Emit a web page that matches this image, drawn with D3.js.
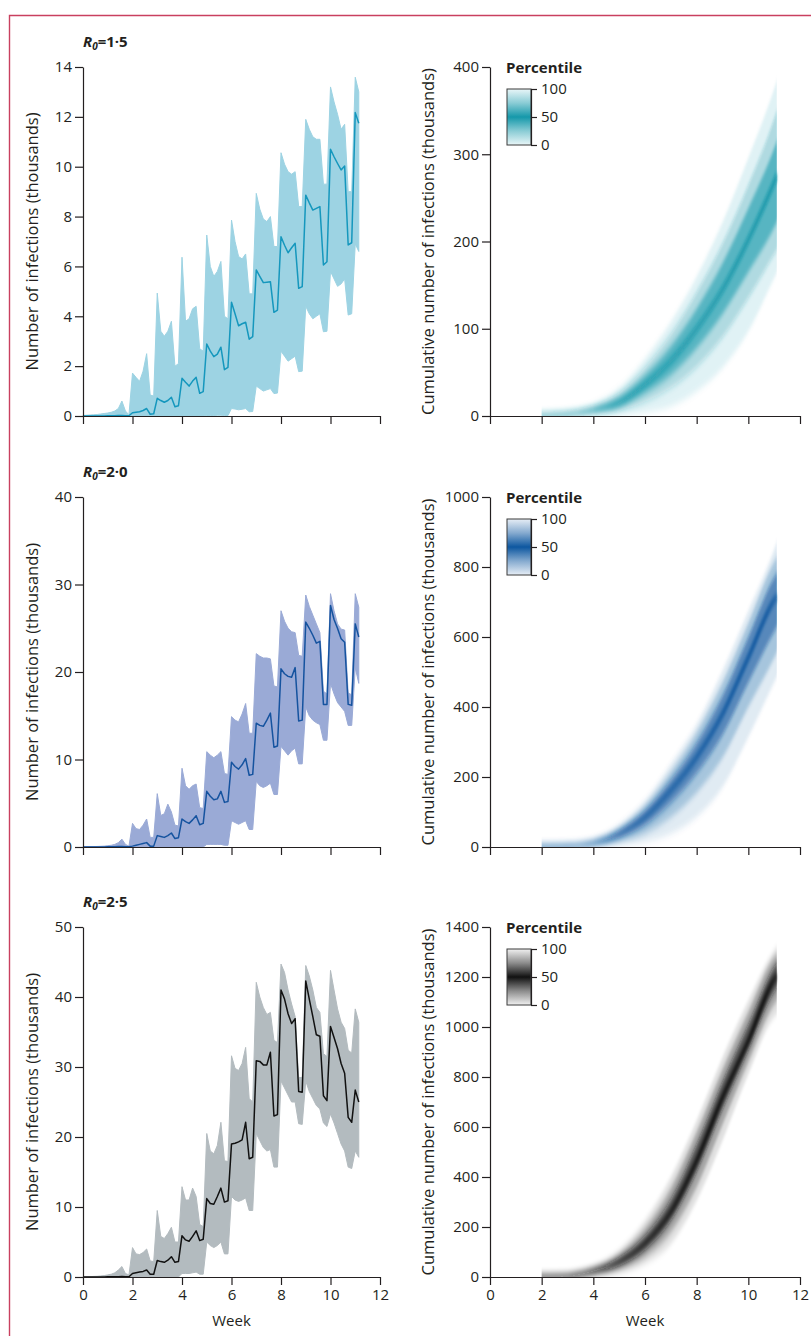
<!DOCTYPE html>
<html>
<head>
<meta charset="utf-8">
<script src="https://cdn.jsdelivr.net/npm/d3@7"></script>
<style>
  body { margin: 0; background: #fff; }
  svg text { font-family: "Open Sans", sans-serif; fill: #231f20; }
  .axis path, .axis line { stroke: #231f20; stroke-width: 1.2; }
</style>
</head>
<body>
<svg width="811" height="1336"></svg>
<script>
// --- daily new infections (thousands), one value per day, day 0 .. day 78 ---
const medA = [0,0,0,0,0,0,0, 0.01,0.01,0.01,0.02,0.02,0.01,0.01, 0.13,0.15,0.17,0.22,0.3,0.07,0.09,
  0.71,0.62,0.55,0.62,0.75,0.37,0.41, 1.51,1.35,1.2,1.4,1.55,0.91,0.98, 2.89,2.6,2.38,2.48,2.76,1.86,1.95,
  4.56,4.1,3.62,3.7,3.76,3.08,3.18, 5.86,5.6,5.35,5.37,5.39,4.16,4.25, 7.19,6.85,6.55,6.75,6.93,5.12,5.19,
  8.86,8.55,8.26,8.33,8.4,6.06,6.19, 10.7,10.4,10.13,9.87,10.03,6.86,6.95, 12.17,11.74];
const upA = [0.02,0.03,0.04,0.05,0.06,0.08,0.1, 0.12,0.15,0.2,0.3,0.6,0.2,0.05, 1.72,1.55,1.39,1.8,2.5,0.84,0.8,
  4.93,3.4,3.2,3.4,3.8,2.0,2.1, 6.37,3.8,3.9,4.3,4.4,2.7,2.6, 7.26,6.0,5.6,5.8,6.2,4.0,3.9,
  7.86,7.0,6.4,6.3,6.5,4.9,4.9, 8.93,8.3,7.9,7.8,8.0,6.8,6.8, 10.56,10.1,9.8,9.7,9.8,8.4,8.4,
  11.9,11.5,11.2,11.1,11.1,9.3,9.3, 13.2,12.6,12.1,11.5,11.7,9.0,9.0, 13.59,13.0];
const loA = [0,0,0,0,0,0,0, 0,0,0,0,0,0,0, 0,0,0,0,0,0,0, 0,0,0,0,0,0,0, 0,0,0,0,0,0,0,
  0.02,0.02,0.02,0.03,0.03,0.02,0.02, 0.3,0.28,0.25,0.27,0.3,0.17,0.18, 1.2,1.1,1.0,1.05,1.1,0.9,0.92,
  2.6,2.4,2.2,2.3,2.4,1.78,1.8, 4.4,4.1,3.9,4.0,4.1,3.38,3.4, 5.8,5.5,5.2,5.3,5.5,4.05,4.1, 6.9,6.6];

const medB = [0,0,0,0,0,0,0, 0.02,0.03,0.04,0.05,0.06,0.03,0.03, 0.1,0.2,0.3,0.4,0.5,0.1,0.1,
  1.3,1.2,1.1,1.3,1.6,0.96,1.06, 3.2,2.9,2.7,3.1,3.58,2.55,2.7, 6.36,5.8,5.4,5.5,6.36,5.1,5.2,
  9.68,9.2,8.9,9.4,10.1,8.2,8.3, 14.15,13.9,13.8,14.5,15.3,11.4,11.55, 20.36,19.8,19.5,19.4,20.5,14.4,14.5,
  25.7,25.0,24.2,23.3,23.5,16.3,16.3, 27.6,26.0,24.96,23.8,23.4,16.3,16.2, 25.5,24.0];
const upB = [0.02,0.03,0.04,0.05,0.06,0.08,0.1, 0.15,0.2,0.3,0.5,0.9,0.3,0.1, 2.7,2.1,2.0,2.5,3.2,1.1,1.1,
  6.1,3.6,3.8,4.9,4.0,2.5,2.4, 9.0,7.0,6.6,7.0,7.2,4.5,4.4, 10.9,10.5,10.2,10.5,10.9,8.4,8.3,
  14.9,14.5,14.3,15.2,16.4,13.0,13.0, 22.1,21.8,21.6,21.6,21.5,18.4,18.3, 27.0,25.8,25.0,24.6,24.5,21.9,21.8,
  28.8,27.5,26.5,25.5,24.5,17.8,17.5, 28.95,27.0,25.5,24.9,24.8,17.6,17.4, 28.95,27.4];
const loB = [0,0,0,0,0,0,0, 0,0,0,0,0,0,0, 0,0,0,0,0,0,0, 0,0,0,0,0,0,0, 0,0,0,0,0,0,0,
  0.3,0.3,0.3,0.3,0.3,0.2,0.2, 3.0,2.8,2.6,2.8,3.0,2.0,2.0, 7.5,7.0,6.8,7.0,7.3,6.0,6.0,
  11.5,11.0,10.5,11.0,11.3,9.5,9.5, 16.0,15.0,14.5,14.2,14.0,12.2,12.2, 18.7,17.5,16.5,16.0,15.5,13.9,13.9, 20.5,18.7];

const medC = [0,0,0,0,0,0,0, 0.02,0.03,0.04,0.05,0.06,0.03,0.03, 0.5,0.6,0.7,0.8,1.0,0.4,0.4,
  2.36,2.2,2.1,2.4,2.9,2.1,2.2, 5.9,5.3,5.1,5.8,6.6,5.2,5.4, 11.2,10.5,10.4,11.5,12.7,10.7,10.9,
  19.0,19.1,19.3,19.6,22.1,16.9,17.1, 30.9,30.8,30.3,30.3,32.1,23.0,23.2, 41.0,39.7,37.6,36.2,36.9,26.5,26.4,
  42.3,39.7,37.2,34.6,34.4,25.9,25.2, 35.8,34.2,32.6,30.5,29.1,22.8,22.1, 26.7,25.0];
const upC = [0.02,0.03,0.05,0.08,0.1,0.15,0.2, 0.3,0.4,0.6,1.0,1.5,0.5,0.3, 4.2,3.3,3.2,3.5,4.0,2.3,2.2,
  9.5,5.8,5.5,6.2,7.1,5.0,5.0, 12.9,11.0,11.0,12.7,11.5,7.5,7.2, 20.5,18.0,17.6,18.8,22.1,16.6,16.5,
  31.6,29.8,29.5,30.5,32.8,25.5,25.0, 42.1,40.0,38.5,37.5,37.8,33.8,33.5, 44.7,43.5,41.0,39.0,37.2,28.5,28.5,
  44.5,43.0,41.0,38.5,37.8,31.9,31.5, 43.8,41.0,38.3,36.4,35.5,32.4,32.0, 38.3,36.4];
const loC = [0,0,0,0,0,0,0, 0,0,0,0,0,0,0, 0,0,0,0,0,0,0, 0,0,0,0,0,0,0, 0.5,0.5,0.5,0.6,0.7,0.4,0.4,
  5.0,4.5,4.2,4.5,5.0,3.3,3.3, 11.5,11.0,10.8,11.0,11.3,9.5,9.5, 20.5,19.5,18.5,18.0,18.2,15.7,15.7,
  28.0,27.0,26.0,25.0,25.0,21.9,21.8, 28.0,26.5,25.5,24.5,24.0,22.0,21.5, 23.3,22.0,20.5,19.0,18.0,15.7,15.5, 18.0,17.1];

// --- cumulative infections (thousands), percentiles at these weeks ---
const cumWeeks = [2,3,4,5,6,7,8,9,10,11,11.1];
const cumA0   = [0,0,0.5,1,4,11,28,55,97,158,164];
const cumA10  = [0,0.5,2.5,6,16,32,56,90,135,185,190];
const cumA25  = [0.1,1.2,4.5,10,26,47,78,117,165,216,222];
const cumA50  = [0.3,2,7,15,36,63,100,145,202,268,275];
const cumA75  = [0.5,2.8,9.5,22,47,80,123,175,238,307,315];
const cumA90  = [0.7,3.3,11,27,56,94,142,198,265,341,350];
const cumA100 = [0.9,4,13,32,66,108,160,222,296,375,384];

const cumB0   = [0,0,1,5,14,38,86,171,314,470,485];
const cumB10  = [0,0.5,4,14,38,85,155,255,400,540,555];
const cumB25  = [0.2,1.2,7,26,62,125,210,320,470,615,628];
const cumB50  = [0.4,2,11,38,86,162,257,380,542,705,715];
const cumB75  = [0.6,2.5,14,48,105,192,298,432,600,770,782];
const cumB90  = [0.8,2.8,16,55,120,215,328,470,640,815,828];
const cumB100 = [1,3,19,62,133,238,352,504,675,850,870];

const cumC0   = [0,0,4,16,53,133,306,546,812,1040,1051];
const cumC10  = [0,1,10,30,80,180,360,610,860,1090,1105];
const cumC25  = [0.5,2,17,45,108,225,420,670,905,1140,1155];
const cumC50  = [1,3,24,60,133,260,466,719,945,1190,1204];
const cumC75  = [1.5,5,30,78,165,310,530,780,1010,1240,1255];
const cumC90  = [2,8,35,92,195,355,580,830,1060,1278,1290];
const cumC100 = [3,11,40,106,226,399,626,878,1105,1305,1318];

// --- labels and axis ranges ---
const r0Labels = ["1·5", "2·0", "2·5"];
const leftMax = [14, 40, 50];
const leftStep = [2, 10, 10];
const rightMax = [400, 1000, 1400];
const rightStep = [100, 200, 200];
const weekTicks = [0, 2, 4, 6, 8, 10, 12];
const legendTicks = [0, 50, 100];

// colours per row
const spreadColor = ["#9dd3e3", "#9aaad6", "#b3bbbf"];
const medianColor = ["#1597bd", "#15539f", "#111111"];
const fanColor = ["#1598aa", "#0d57a0", "#111111"];
const fanLight = ["#e9f6f8", "#e7eef6", "#f1f1f1"];

const rows = [
  { med: medA, up: upA, lo: loA, cum: [cumA0, cumA10, cumA25, cumA50, cumA75, cumA90, cumA100] },
  { med: medB, up: upB, lo: loB, cum: [cumB0, cumB10, cumB25, cumB50, cumB75, cumB90, cumB100] },
  { med: medC, up: upC, lo: loC, cum: [cumC0, cumC10, cumC25, cumC50, cumC75, cumC90, cumC100] }
];

const tickFont = "15px";
const titleFont = "16.5px";

const svg = d3.select("svg");
const defs = svg.append("defs");

// vertical-only blur for the percentile fan
defs.append("filter").attr("id", "vblur")
  .attr("x", "-5%").attr("y", "-10%").attr("width", "110%").attr("height", "120%")
  .append("feGaussianBlur").attr("stdDeviation", "0 3.5");

// page frame
svg.append("path")
  .attr("d", "M9.5,1336V15.5H811")
  .attr("fill", "none").attr("stroke", "#c9405f").attr("stroke-width", 1.4);

const xL = d3.scaleLinear().domain([0, 12]).range([83, 380]);
const xR = d3.scaleLinear().domain([0, 12]).range([490, 800]);
const rowTop = [67, 497, 927];
const rowBottom = [416, 847, 1277];

rows.forEach((r, i) => {
  const yL = d3.scaleLinear().domain([0, leftMax[i]]).range([rowBottom[i], rowTop[i]]);
  const yR = d3.scaleLinear().domain([0, rightMax[i]]).range([rowBottom[i], rowTop[i]]);
  const isLast = i === rows.length - 1;

  // ---------- left: daily infections ----------
  const gL = svg.append("g");
  const spread = d3.area()
    .x((d, j) => xL(j / 7))
    .y0((d, j) => yL(r.lo[j]))
    .y1(d => yL(d));
  gL.append("path").datum(r.up)
    .attr("d", spread)
    .attr("fill", spreadColor[i])
    .attr("stroke", spreadColor[i])
    .attr("stroke-width", 1);

  const medLine = d3.line().x((d, j) => xL(j / 7)).y(d => yL(d));
  gL.append("path").datum(r.med)
    .attr("d", medLine)
    .attr("fill", "none")
    .attr("stroke", medianColor[i])
    .attr("stroke-width", 1.5)
    .attr("stroke-linejoin", "round");

  gL.append("g").attr("class", "axis")
    .attr("transform", `translate(${xL(0)},0)`)
    .call(d3.axisLeft(yL).tickValues(d3.range(0, leftMax[i] + 1, leftStep[i]))
      .tickSize(8).tickSizeOuter(0).tickPadding(3))
    .call(g => g.selectAll("text").style("font-size", tickFont));

  gL.append("g").attr("class", "axis")
    .attr("transform", `translate(0,${rowBottom[i]})`)
    .call(d3.axisBottom(xL).tickValues(weekTicks).tickSize(8).tickSizeOuter(0)
      .tickPadding(4).tickFormat(isLast ? d3.format("d") : () => ""))
    .call(g => g.selectAll("text").style("font-size", tickFont));

  // title R0 = ...
  const title = gL.append("text")
    .attr("x", 83).attr("y", rowTop[i] - 20)
    .style("font-size", "15px").style("font-weight", "bold");
  title.append("tspan").style("font-style", "italic").text("R");
  title.append("tspan").style("font-style", "italic").style("font-size", "10px")
    .attr("dy", 3).text("0");
  title.append("tspan").attr("dy", -3).text("=" + r0Labels[i]);

  gL.append("text")
    .attr("transform", `translate(38,${(rowTop[i] + rowBottom[i]) / 2}) rotate(-90)`)
    .attr("text-anchor", "middle")
    .style("font-size", titleFont)
    .text("Number of infections (thousands)");

  // ---------- right: cumulative infections, percentile fan ----------
  const gR = svg.append("g");
  const clipId = "clip" + i;
  defs.append("clipPath").attr("id", clipId)
    .append("rect").attr("x", xR(0)).attr("y", rowTop[i] - 5)
    .attr("width", xR(12) - xR(0)).attr("height", rowBottom[i] - rowTop[i] + 5);
  const fan = gR.append("g").attr("clip-path", `url(#${clipId})`)
    .append("g").attr("filter", "url(#vblur)");
  const band = (lo, hi) => d3.area()
    .x((d, j) => xR(cumWeeks[j]))
    .y0((d, j) => yR(lo[j]))
    .y1((d, j) => yR(hi[j]))
    .curve(d3.curveMonotoneX);
  const c = r.cum;
  [[c[0], c[6], 0.12], [c[1], c[5], 0.26], [c[2], c[4], 0.55]].forEach(([lo, hi, op]) => {
    fan.append("path").datum(lo)
      .attr("d", band(lo, hi))
      .attr("fill", fanColor[i])
      .attr("fill-opacity", op);
  });
  fan.append("path").datum(c[3])
    .attr("d", d3.line().x((d, j) => xR(cumWeeks[j])).y(d => yR(d)).curve(d3.curveMonotoneX))
    .attr("fill", "none")
    .attr("stroke", fanColor[i])
    .attr("stroke-width", 4)
    .attr("stroke-opacity", 0.9);

  gR.append("g").attr("class", "axis")
    .attr("transform", `translate(${xR(0)},0)`)
    .call(d3.axisLeft(yR).tickValues(d3.range(0, rightMax[i] + 1, rightStep[i]))
      .tickSize(8).tickSizeOuter(0).tickPadding(3).tickFormat(d3.format("d")))
    .call(g => g.selectAll("text").style("font-size", tickFont));

  gR.append("g").attr("class", "axis")
    .attr("transform", `translate(0,${rowBottom[i]})`)
    .call(d3.axisBottom(xR).tickValues(weekTicks).tickSize(8).tickSizeOuter(0)
      .tickPadding(4).tickFormat(isLast ? d3.format("d") : () => ""))
    .call(g => g.selectAll("text").style("font-size", tickFont));

  gR.append("text")
    .attr("transform", `translate(434,${(rowTop[i] + rowBottom[i]) / 2}) rotate(-90)`)
    .attr("text-anchor", "middle")
    .style("font-size", titleFont)
    .text("Cumulative number of infections (thousands)");

  // legend
  const gradId = "pct" + i;
  const grad = defs.append("linearGradient").attr("id", gradId)
    .attr("x1", 0).attr("y1", 0).attr("x2", 0).attr("y2", 1);
  grad.append("stop").attr("offset", "0%").attr("stop-color", fanLight[i]);
  grad.append("stop").attr("offset", "25%").attr("stop-color", d3.interpolateRgb(fanLight[i], fanColor[i])(0.45));
  grad.append("stop").attr("offset", "50%").attr("stop-color", fanColor[i]);
  grad.append("stop").attr("offset", "75%").attr("stop-color", d3.interpolateRgb(fanLight[i], fanColor[i])(0.45));
  grad.append("stop").attr("offset", "100%").attr("stop-color", fanLight[i]);

  const legTop = rowTop[i] + 22, legH = 56;
  gR.append("text")
    .attr("x", 506).attr("y", rowTop[i] + 6)
    .style("font-size", "15px").style("font-weight", "bold")
    .text("Percentile");
  gR.append("rect")
    .attr("x", 507).attr("y", legTop).attr("width", 24).attr("height", legH)
    .attr("fill", `url(#${gradId})`)
    .attr("stroke", "#3a3a3a").attr("stroke-width", 1);
  const yLeg = d3.scaleLinear().domain([0, 100]).range([legTop + legH, legTop]);
  gR.append("g").attr("class", "axis")
    .attr("transform", "translate(531,0)")
    .call(d3.axisRight(yLeg).tickValues(legendTicks).tickSize(6).tickSizeOuter(0).tickPadding(4))
    .call(g => g.selectAll("text").style("font-size", tickFont))
    .call(g => g.select(".domain").attr("stroke-width", 1));
});

// x axis titles on the bottom row
[xL, xR].forEach(x => {
  svg.append("text")
    .attr("x", (x.range()[0] + x.range()[1]) / 2).attr("y", 1326)
    .attr("text-anchor", "middle")
    .style("font-size", tickFont)
    .text("Week");
});
</script>
</body>
</html>
